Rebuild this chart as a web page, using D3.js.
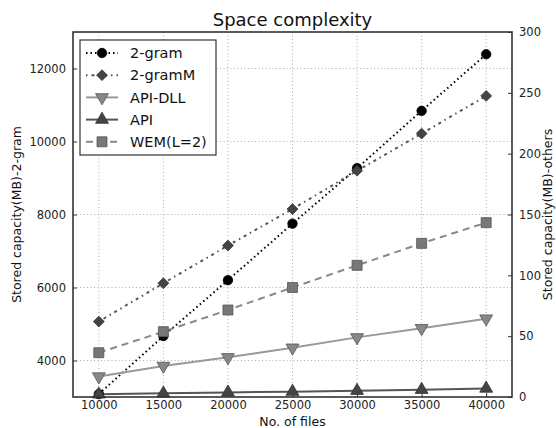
<!DOCTYPE html>
<html>
<head>
<meta charset="utf-8">
<script src="https://cdn.jsdelivr.net/npm/d3@7"></script>
<style>
  body { margin: 0; background: #fff; }
  text { font-family: "DejaVu Sans", sans-serif; }
</style>
</head>
<body>
<div id="chart"></div>
<script>
// 数据
const files = [10000, 15000, 20000, 25000, 30000, 35000, 40000]
const gram2 = [3080, 4670, 6200, 7750, 9270, 10840, 12390]      // 左轴
const gram2M = [62, 93.5, 124.5, 154.5, 186, 216.5, 247.5]      // 右轴
const apiDll = [16.8, 25.5, 32.6, 40.5, 49, 56.5, 64.4]
const api = [2.2, 3.0, 3.8, 4.4, 5.2, 6.0, 7.0]
const wem = [36.4, 53.7, 71.5, 90, 108.2, 126.3, 143.3]
const xTicks = [10000, 15000, 20000, 25000, 30000, 35000, 40000]
const leftTicks = [4000, 6000, 8000, 10000, 12000]
const rightTicks = [0, 50, 100, 150, 200, 250, 300]

const W = 556, H = 428
const m = { left: 73, right: 44, top: 32, bottom: 31 }
const iw = W - m.left - m.right
const ih = H - m.top - m.bottom

const svg = d3.select('#chart').append('svg')
  .attr('width', W).attr('height', H)

const x = d3.scaleLinear().domain([8000, 42000]).range([m.left, m.left + iw])
const yL = d3.scaleLinear().domain([3000, 13000]).range([m.top + ih, m.top])
const yR = d3.scaleLinear().domain([0, 300]).range([m.top + ih, m.top])

// 网格
const grid = svg.append('g')
grid.selectAll('.vg').data(xTicks).enter().append('line')
  .attr('x1', d => x(d)).attr('x2', d => x(d))
  .attr('y1', m.top).attr('y2', m.top + ih)
  .attr('stroke', '#999').attr('stroke-width', 0.8).attr('stroke-dasharray', '1,2.5')
grid.selectAll('.hg').data(leftTicks).enter().append('line')
  .attr('y1', d => yL(d)).attr('y2', d => yL(d))
  .attr('x1', m.left).attr('x2', m.left + iw)
  .attr('stroke', '#999').attr('stroke-width', 0.8).attr('stroke-dasharray', '1,2.5')

// 坐标轴
const fmt = d3.format('d')
const axB = svg.append('g').attr('transform', 'translate(0,' + (m.top + ih) + ')')
  .call(d3.axisBottom(x).tickValues(xTicks).tickFormat(fmt).tickSizeInner(-4).tickSizeOuter(0).tickPadding(4))
const axL = svg.append('g').attr('transform', 'translate(' + m.left + ',0)')
  .call(d3.axisLeft(yL).tickValues(leftTicks).tickFormat(fmt).tickSizeInner(-4).tickSizeOuter(0).tickPadding(7))
const axR = svg.append('g').attr('transform', 'translate(' + (m.left + iw) + ',0)')
  .call(d3.axisRight(yR).tickValues(rightTicks).tickFormat(fmt).tickSizeInner(-4).tickSizeOuter(0).tickPadding(7))
;[axB, axL, axR].forEach(a => {
  a.select('.domain').remove()
  a.selectAll('text').attr('font-size', 11.5).attr('fill', '#222')
  a.selectAll('line').attr('stroke', '#333')
})

// 系列
const series = [
  { name: '2-gram', vals: gram2, y: yL, stroke: '#000', width: 2, dash: '1.5,3', marker: 'circle', fill: '#000', edge: '#000', size: 70 },
  { name: '2-gramM', vals: gram2M, y: yR, stroke: '#555', width: 2, dash: '1.5,4,3,4', marker: 'diamond', fill: '#444', edge: '#333', size: 58 },
  { name: 'API-DLL', vals: apiDll, y: yR, stroke: '#999', width: 2, dash: null, marker: 'down', fill: '#888', edge: '#555', size: 72 },
  { name: 'API', vals: api, y: yR, stroke: '#555', width: 2, dash: null, marker: 'up', fill: '#444', edge: '#333', size: 72 },
  { name: 'WEM(L=2)', vals: wem, y: yR, stroke: '#888', width: 2, dash: '7,5', marker: 'square', fill: '#777', edge: '#555', size: 100 }
]

const symbolFor = k => ({
  circle: d3.symbolCircle, diamond: d3.symbolSquare, square: d3.symbolSquare,
  up: d3.symbolTriangle, down: d3.symbolTriangle
})[k]
const rot = k => (k === 'down' ? ' rotate(180)' : k === 'diamond' ? ' rotate(45)' : '')

const plot = svg.append('g')
series.forEach(s => {
  const line = d3.line().x((d, i) => x(files[i])).y(d => s.y(d))
  plot.append('path')
    .attr('d', line(s.vals))
    .attr('fill', 'none')
    .attr('stroke', s.stroke)
    .attr('stroke-width', s.width)
    .attr('stroke-dasharray', s.dash)
})
series.forEach(s => {
  const sym = d3.symbol().type(symbolFor(s.marker)).size(s.size)
  plot.selectAll(null).data(s.vals).enter().append('path')
    .attr('d', sym)
    .attr('transform', (d, i) => 'translate(' + x(files[i]) + ',' + s.y(d) + ')' + rot(s.marker))
    .attr('fill', s.fill)
    .attr('stroke', s.edge)
    .attr('stroke-width', 0.8)
})

// 边框
svg.append('rect')
  .attr('x', m.left).attr('y', m.top).attr('width', iw).attr('height', ih)
  .attr('fill', 'none').attr('stroke', '#333').attr('stroke-width', 1.6)

// 图例
const lg = svg.append('g').attr('transform', 'translate(80,40)')
lg.append('rect').attr('width', 136).attr('height', 115)
  .attr('fill', '#fff').attr('stroke', '#333').attr('stroke-width', 1.2)
series.forEach((s, i) => {
  const yy = 13 + i * 22.2
  lg.append('line').attr('x1', 6).attr('x2', 38).attr('y1', yy).attr('y2', yy)
    .attr('stroke', s.stroke).attr('stroke-width', s.width).attr('stroke-dasharray', s.dash)
  lg.append('path')
    .attr('d', d3.symbol().type(symbolFor(s.marker)).size(s.size)())
    .attr('transform', 'translate(22,' + yy + ')' + rot(s.marker))
    .attr('fill', s.fill).attr('stroke', s.edge).attr('stroke-width', 0.8)
  lg.append('text').attr('x', 50).attr('y', yy).attr('dy', '0.36em')
    .attr('font-size', 14.5).attr('fill', '#111').text(s.name)
})

// 标题与轴标签
svg.append('text').attr('x', m.left + iw / 2).attr('y', 26)
  .attr('text-anchor', 'middle').attr('font-size', 18).attr('fill', '#111').text('Space complexity')
svg.append('text').attr('x', m.left + iw / 2).attr('y', 426)
  .attr('text-anchor', 'middle').attr('font-size', 12.5).attr('fill', '#111').text('No. of files')
svg.append('text').attr('transform', 'translate(21,' + (m.top + ih / 2) + ') rotate(-90)')
  .attr('text-anchor', 'middle').attr('font-size', 12.5).attr('fill', '#111').text('Stored capacity(MB)-2-gram')
svg.append('text').attr('transform', 'translate(552,' + (m.top + ih / 2) + ') rotate(-90)')
  .attr('text-anchor', 'middle').attr('font-size', 12.5).attr('fill', '#111').text('Stored capacity(MB)-others')
</script>
</body>
</html>
